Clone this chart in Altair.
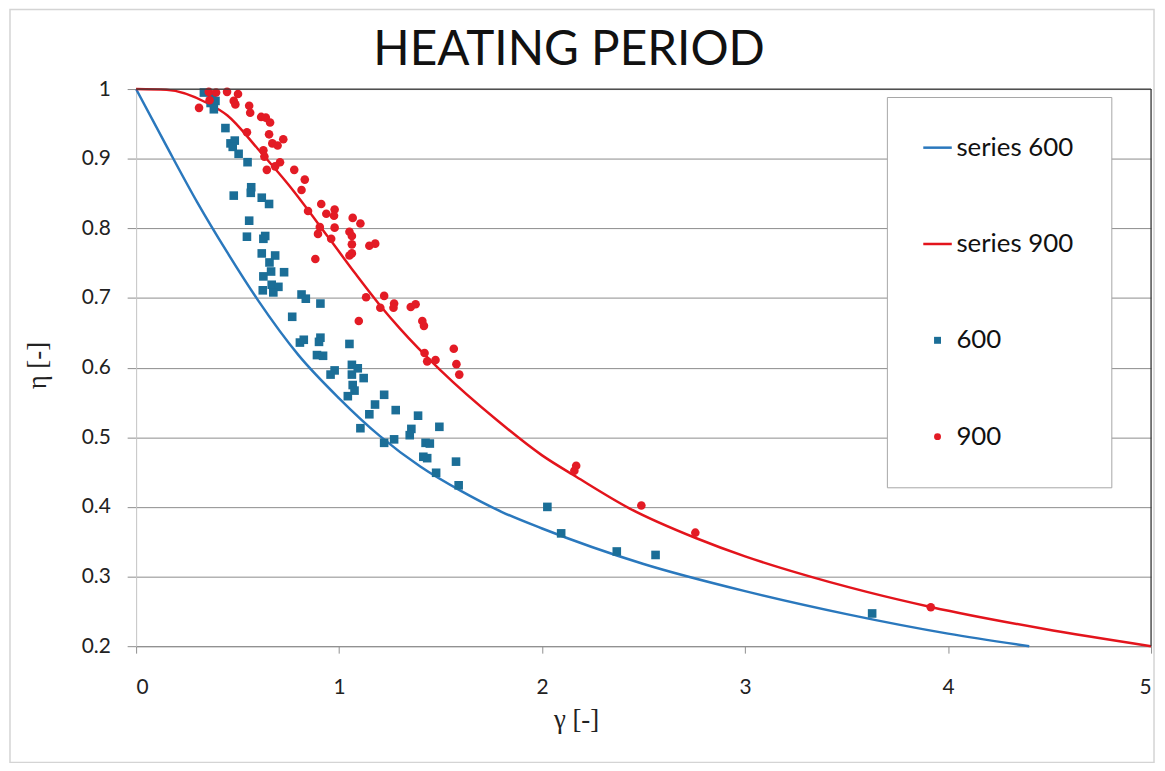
import altair as alt
import pandas as pd

# ---- fitted curves ----
curve600_g = [0, 0.15, 0.3, 0.45, 0.6, 0.8, 1.0, 1.2, 1.4, 1.6, 1.8, 2.0, 2.5, 3.0, 3.5, 4.0, 4.4]
curve600_e = [1.0, 0.918, 0.838, 0.765, 0.697, 0.618, 0.556, 0.502, 0.458, 0.423, 0.393, 0.369, 0.318, 0.279, 0.246, 0.218, 0.2]

curve900_g = [0, 0.15, 0.35, 0.45, 0.6, 0.75, 0.95, 1.08, 1.2, 1.3, 1.5, 1.78, 2.0, 2.17, 2.43, 2.76, 3.0, 3.25, 3.6, 3.92, 4.47, 5.0]
curve900_e = [1.0, 0.999, 0.980, 0.962, 0.914, 0.863, 0.786, 0.735, 0.690, 0.656, 0.596, 0.524, 0.474, 0.443, 0.398, 0.355, 0.329, 0.306, 0.278, 0.256, 0.225, 0.2]

# ---- measured points, series 600 ----
pts600_g = [0.334, 0.367, 0.391, 0.383, 0.375, 0.440, 0.465, 0.486, 0.476, 0.505,
            0.549, 0.567, 0.565, 0.481, 0.619, 0.655, 0.557, 0.546, 0.636, 0.627,
            0.619, 0.685, 0.657, 0.665, 0.729, 0.627, 0.668, 0.701, 0.624, 0.676,
            0.815, 0.836, 0.908, 0.769, 0.807, 0.826, 0.908, 0.901, 1.051, 0.891,
            0.921, 1.063, 1.092, 0.978, 0.958, 1.063, 1.121, 1.067, 1.076, 1.043,
            1.222, 1.177, 1.279, 1.149, 1.389, 1.356, 1.494, 1.348, 1.105, 1.222,
            1.271, 1.426, 1.447, 1.415, 1.434, 1.576, 1.478, 1.589, 2.026, 2.094,
            2.368, 2.559, 3.626]
pts600_e = [0.995, 0.980, 0.983, 0.971, 0.988, 0.944, 0.922, 0.926, 0.917, 0.907,
            0.895, 0.859, 0.851, 0.847, 0.844, 0.835, 0.811, 0.788, 0.789, 0.785,
            0.764, 0.761, 0.751, 0.738, 0.737, 0.731, 0.719, 0.716, 0.711, 0.708,
            0.705, 0.699, 0.692, 0.673, 0.636, 0.640, 0.643, 0.637, 0.634, 0.618,
            0.617, 0.604, 0.599, 0.596, 0.590, 0.590, 0.585, 0.575, 0.567, 0.559,
            0.561, 0.547, 0.539, 0.533, 0.531, 0.512, 0.515, 0.503, 0.513, 0.492,
            0.497, 0.492, 0.491, 0.472, 0.470, 0.465, 0.449, 0.431, 0.400, 0.362,
            0.336, 0.331, 0.247]

# ---- measured points, series 900 ----
pts900_g = [0.358, 0.394, 0.448, 0.502, 0.310, 0.362, 0.481, 0.489, 0.557, 0.562,
            0.616, 0.639, 0.660, 0.546, 0.655, 0.671, 0.697, 0.725, 0.627, 0.632,
            0.709, 0.685, 0.644, 0.779, 0.831, 0.815, 0.912, 0.937, 0.978, 0.975,
            0.847, 1.067, 1.105, 0.905, 0.978, 0.896, 1.051, 1.063, 0.961, 1.063,
            1.149, 1.178, 0.883, 1.051, 1.063, 1.133, 1.222, 1.203, 1.271, 1.268,
            1.353, 1.377, 1.097, 1.410, 1.418, 1.421, 1.434, 1.475, 1.565, 1.578,
            1.592, 2.168, 2.159, 2.489, 2.755, 3.915]
pts900_e = [0.996, 0.995, 0.996, 0.993, 0.973, 0.984, 0.983, 0.978, 0.976, 0.966,
            0.960, 0.959, 0.952, 0.938, 0.935, 0.922, 0.919, 0.928, 0.912, 0.903,
            0.895, 0.889, 0.884, 0.884, 0.870, 0.855, 0.835, 0.821, 0.827, 0.818,
            0.825, 0.815, 0.807, 0.802, 0.801, 0.792, 0.795, 0.789, 0.785, 0.777,
            0.775, 0.778, 0.756, 0.761, 0.764, 0.701, 0.703, 0.686, 0.692, 0.686,
            0.687, 0.691, 0.667, 0.667, 0.660, 0.621, 0.609, 0.611, 0.627, 0.605,
            0.590, 0.459, 0.452, 0.402, 0.363, 0.256]

x_ticks = [0, 1, 2, 3, 4, 5]
y_ticks = [0.2, 0.3, 0.4, 0.5, 0.6, 0.7, 0.8, 0.9, 1.0]

chart_title = "HEATING PERIOD"
series_names = ["series 600", "series 900", "600", "900"]
series_colors = ["#2a78bd", "#e3141c", "#1b6e97", "#e31b25"]
LINE_SYMBOL = "M-4.1,-0.36H4.1V0.36H-4.1Z"
series_shapes = [LINE_SYMBOL, LINE_SYMBOL, "square", "circle"]

c600 = pd.DataFrame({"g": curve600_g, "e": curve600_e})
c900 = pd.DataFrame({"g": curve900_g, "e": curve900_e})
pts = pd.concat([
    pd.DataFrame({"g": pts600_g, "e": pts600_e, "s": "600"}),
    pd.DataFrame({"g": pts900_g, "e": pts900_e, "s": "900"}),
], ignore_index=True)

xs = alt.Scale(domain=[0, 5], nice=False, zero=False)
ys = alt.Scale(domain=[0.2, 1.0], nice=False, zero=False)
cs = alt.Scale(domain=series_names, range=series_colors)
ss = alt.Scale(domain=series_names, range=series_shapes)

x_axis = alt.Axis(values=x_ticks, format="d", grid=False,
                  domainColor="#8f8f8f", tickColor="#8f8f8f", tickSize=7,
                  labelFont="Lato", labelFontSize=21, labelColor="#222222",
                  labelPadding=24,
                  title="γ [-]", titleFont="Liberation Serif", titleFontSize=27,
                  titleFontWeight="normal", titleColor="#222222",
                  titleX=443, titleY=74, titleAlign="center", titleBaseline="middle")
y_axis = alt.Axis(values=y_ticks, format=".1~f", grid=True,
                  gridColor="#8c8c8c", gridWidth=1,
                  domainColor="#c9c9c9", tickColor="#8c8c8c", tickSize=9,
                  labelFont="Lato", labelFontSize=21, labelColor="#222222",
                  labelPadding=17,
                  title="η [-]", titleFont="Liberation Serif", titleFontSize=27,
                  titleFontWeight="normal", titleColor="#222222",
                  titleX=-99, titleY=278, titleAngle=270,
                  titleAlign="center", titleBaseline="middle")

legend = alt.Legend(orient="none", legendX=756, legendY=8, title=None,
                    padding=38, rowPadding=71, symbolSize=49, labelOffset=6,
                    labelFont="Lato", labelFontSize=26, labelColor="#111111",
                    strokeColor="#a6a6a6", fillColor="white",
                    symbolStrokeWidth=0, symbolOpacity=1)

one = pd.DataFrame({"k": [0]})

frame = alt.Chart(one).mark_rect(
    fillOpacity=0, stroke="#d4d4d4", strokeWidth=1.5
).encode(x=alt.value(-127), x2=alt.value(1025), y=alt.value(-80), y2=alt.value(678))

title_text = alt.Chart(one).mark_text(
    text=chart_title, font="Lato", fontSize=48, color="#111111",
    align="center", baseline="alphabetic"
).encode(x=alt.value(436), y=alt.value(-24))

line600 = alt.Chart(c600).mark_line(
    strokeWidth=2.5, interpolate="monotone", color=series_colors[0]
).encode(
    x=alt.X("g:Q", scale=xs, axis=x_axis),
    y=alt.Y("e:Q", scale=ys, axis=y_axis),
)
line900 = alt.Chart(c900).mark_line(
    strokeWidth=2.5, interpolate="monotone", color=series_colors[1]
).encode(
    x=alt.X("g:Q", scale=xs),
    y=alt.Y("e:Q", scale=ys),
)

pt_layer = alt.Chart(pts).mark_point(filled=True, size=75, opacity=1).encode(
    x=alt.X("g:Q", scale=xs),
    y=alt.Y("e:Q", scale=ys),
    color=alt.Color("s:N", scale=cs, legend=legend),
    shape=alt.Shape("s:N", scale=ss, legend=legend),
)

top_rule = alt.Chart(pd.DataFrame({"e": [1.0]})).mark_rule(
    color="#3a3a3a", strokeWidth=1.3).encode(y=alt.Y("e:Q", scale=ys))
right_rule = alt.Chart(pd.DataFrame({"g": [5.0]})).mark_rule(
    color="#3a3a3a", strokeWidth=1.3).encode(x=alt.X("g:Q", scale=xs))

chart = alt.layer(frame, title_text, line600, line900, pt_layer, top_rule, right_rule).properties(
    width=1022, height=561,
    autosize=alt.AutoSizeParams(type="none"),
    padding={"left": 129, "top": 79, "right": 6, "bottom": 115},
).configure_view(strokeWidth=0).configure(background="white")

chart.save("out.html", embed_options={"renderer": "svg", "actions": False})
